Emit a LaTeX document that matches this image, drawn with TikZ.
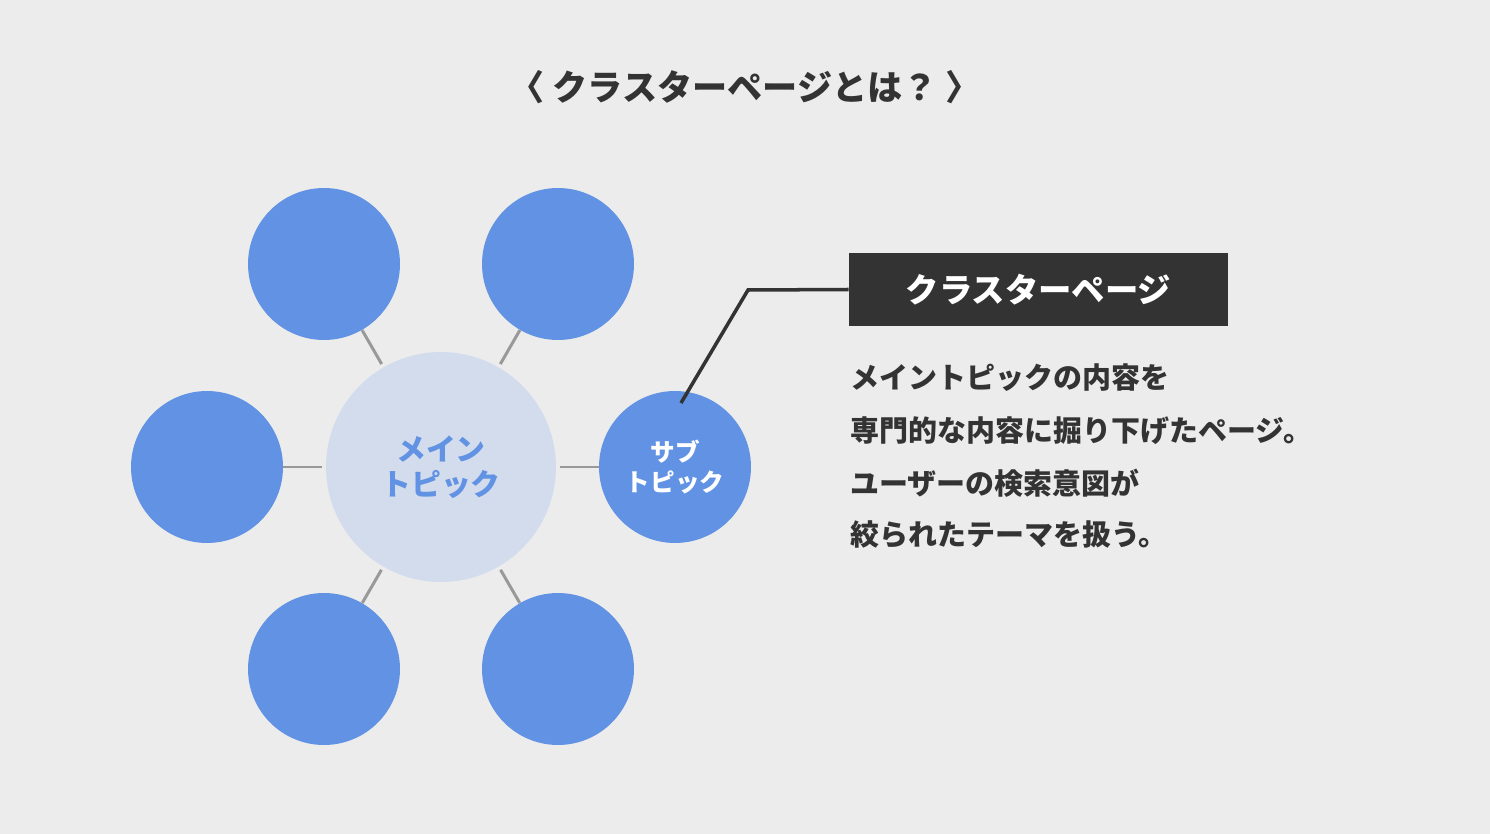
\documentclass[tikz,border=0pt]{standalone}
\usepackage{fontspec}
\setmainfont{Noto Sans CJK JP}
\usetikzlibrary{positioning}
\definecolor{bgc}{HTML}{ECECEC}
\definecolor{subc}{HTML}{6192E3}
\definecolor{mainc}{HTML}{D3DCEC}
\definecolor{darkc}{HTML}{333333}
\definecolor{linec}{HTML}{999999}
\tikzset{
  subcircle/.style={circle, fill=subc, minimum size=3.04cm, inner sep=0pt, text=white, font=\fontsize{14}{17}\selectfont\bfseries, align=center},
  maincircle/.style={circle, fill=mainc, minimum size=4.6cm, inner sep=0pt, text=subc, font=\fontsize{17}{20}\selectfont\bfseries, align=center},
  spoke/.style={draw=linec, line width=1.7pt, shorten <=2pt},
  bodytext/.style={anchor=west, text=darkc, font=\fontsize{16.5}{20}\selectfont\bfseries, inner sep=0pt}
}
\begin{document}
\begin{tikzpicture}[x=0.02cm, y=-0.02cm]
\fill[bgc] (0,0) rectangle (1490,834);

% title
\node[text=darkc, font=\fontsize{20}{24}\selectfont\bfseries] (title) at (745,87) {〈 クラスターページとは？ 〉};

% circles
\node[maincircle] (main) at (441,467) {メイン\\トピック};
\node[subcircle] (tl) at (324,264) {};
\node[subcircle] (tr) at (558,264) {};
\node[subcircle] (ml) at (207,467) {};
\node[subcircle] (mr) at (675,467) {サブ\\トピック};
\node[subcircle] (bl) at (324,669) {};
\node[subcircle] (br) at (558,669) {};

% spokes
\foreach \s in {tl,tr,ml,mr,bl,br}
  \draw[spoke] (main) -- (\s);

% label box
\node[fill=darkc, text=white, minimum width=7.58cm, minimum height=1.46cm, inner sep=0pt,
  font=\fontsize{19}{22}\selectfont\bfseries] (label) at (1038.5,289.5) {クラスターページ};
\coordinate (bend) at (748,290);
\coordinate (tip) at (681,403);
\draw[darkc, line width=2pt] (tip) -- (bend) -- (label.west);

% description
\node[bodytext] (d1) at (850,378) {メイントピックの内容を};
\node[bodytext] (d2) at (850,431) {専門的な内容に掘り下げたページ。};
\node[bodytext] (d3) at (850,483) {ユーザーの検索意図が};
\node[bodytext] (d4) at (850,535) {絞られたテーマを扱う。};
\end{tikzpicture}
\end{document}
